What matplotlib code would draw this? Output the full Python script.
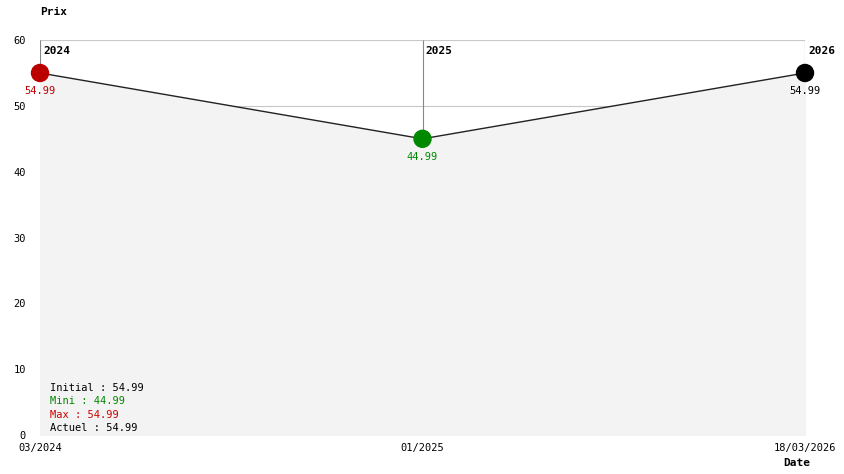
import matplotlib
matplotlib.use("agg")
import matplotlib.pyplot as plt

dates = ["03/2024", "01/2025", "18/03/2026"]
years = ["2024", "2025", "2026"]
prices = [54.99, 44.99, 54.99]
point_colors = ["#bb0000", "#008800", "#000000"]
stats = [("Initial : 54.99", "black"), ("Mini : 44.99", "#008800"),
         ("Max : 54.99", "#cc0000"), ("Actuel : 54.99", "black")]

plt.rcParams["font.family"] = ["DejaVu Sans Mono"]
fig = plt.figure(figsize=(8.44, 4.74), dpi=100)
ax = fig.add_axes([40 / 844, 39 / 474, 765 / 844, 395 / 474])
x = list(range(len(prices)))

for yv in (50, 60):
    ax.axhline(yv, color="#c8c8c8", lw=0.8, zorder=0)
ax.fill_between(x, prices, 0, color="#f3f3f3", zorder=1)
for xi, p, yr in zip(x, prices, years):
    ax.vlines(xi, p, 60, color="#888888", lw=0.8, zorder=2)
    ax.text(xi + 0.008, 58.3, yr, fontsize=8, fontweight="bold", va="center", ha="left")
ax.plot(x, prices, color="#222222", lw=1, zorder=3)
ax.scatter(x, prices, s=150, c=point_colors, zorder=4, clip_on=False)
for xi, p, c in zip(x, prices, point_colors):
    ax.text(xi, p - 2.7, f"{p:.2f}", color=c, fontsize=7.5, ha="center", va="center")

for i, (t, c) in enumerate(stats):
    ax.text(0.026, 7.2 - i * 2.05, t, color=c, fontsize=7.5, va="center")

ax.set_xlim(0, 2)
ax.set_ylim(0, 60)
ax.set_yticks(range(0, 61, 10))
ax.set_xticks(x)
ax.set_xticklabels(dates)
ax.tick_params(length=0, labelsize=7.5, pad=6)
ax.tick_params(axis="y", pad=10)
for s in ax.spines.values():
    s.set_visible(False)
fig.text(40 / 844, 1 - 12 / 474, "Prix", fontsize=8, fontweight="bold", va="center")
fig.text(783 / 844, 1 - 463 / 474, "Date", fontsize=8, fontweight="bold", va="center")
fig.savefig("out.png", dpi=100)
